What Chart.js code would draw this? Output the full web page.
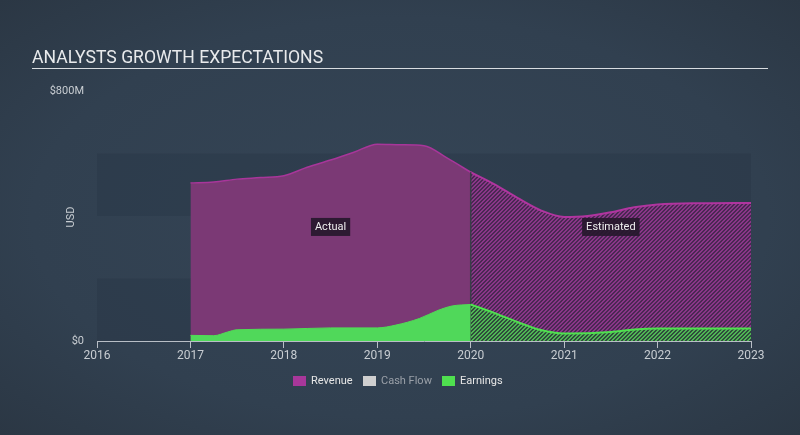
<!DOCTYPE html>
<html>
<head>
<meta charset="utf-8">
<script src="https://cdn.jsdelivr.net/npm/chart.js@4"></script>
<style>
  html, body { margin: 0; padding: 0; }
  body {
    width: 800px; height: 435px; overflow: hidden;
    background: radial-gradient(ellipse at 50% 50%, #354556 0%, #314050 65%, #2b3744 100%);
  }
  canvas { display: block; }
</style>
</head>
<body>
<canvas id="growthChart" width="800" height="435"></canvas>
<script>
// =====================
// Chart data
// =====================

const yearTicks = [2016, 2017, 2018, 2019, 2020, 2021, 2022, 2023];
const yTicks = [0, 800];           // $M
const bandEdges = [0, 200, 400, 600, 800];

// Revenue ($M), actual then analyst estimates
const revenueActualX = [2017, 2017.25, 2017.5, 2017.75, 2018, 2018.25, 2018.5, 2018.75, 2019, 2019.25, 2019.5, 2019.75, 2020];
const revenueActualY = [506, 509, 518, 523, 529, 556, 579, 604, 630, 628, 625, 585, 540];
const revenueEstX = [2020, 2020.25, 2020.5, 2020.75, 2021, 2021.25, 2021.5, 2021.75, 2022, 2022.5, 2023];
const revenueEstY = [540, 502, 458, 418, 397, 400, 412, 428, 437, 441, 442];

// Earnings ($M)
const earningsActualX = [2017, 2017.25, 2017.4, 2017.5, 2018, 2018.5, 2019, 2019.2, 2019.45, 2019.65, 2019.8, 2020];
const earningsActualY = [18, 17, 29, 36, 38, 42, 42, 51, 72, 98, 112, 117];
const earningsEstX = [2020, 2020.25, 2020.5, 2020.75, 2021, 2021.5, 2021.75, 2022, 2023];
const earningsEstY = [117, 90, 61, 35, 24, 29, 37, 40, 40];

const legendNames = ["Revenue", "Cash Flow", "Earnings"];
const legendColors = ["#a8379a", "#cfcfcf", "#4fe04f"];
const legendTextColors = ["#e6e6e6", "#9aa0a8", "#e6e6e6"];

const toPoints = (xs, ys) => xs.map((x, i) => ({ x: x, y: ys[i] }));

// -------- hatch pattern for estimates --------
function hatch(bg, fg) {
  const c = document.createElement('canvas');
  c.width = 4; c.height = 4;
  const g = c.getContext('2d');
  g.fillStyle = bg;
  g.fillRect(0, 0, 4, 4);
  g.fillStyle = fg;
  for (let i = 0; i < 4; i++) {
    g.fillRect(i, 3 - i, 1, 1);
    g.fillRect(i, (4 - i) % 4, 1, 1);
  }
  return g.createPattern(c, 'repeat');
}

// =====================
// Plugins
// =====================

const backdrop = {
  id: 'backdrop',
  beforeDraw(chart) {
    const { ctx, chartArea: a, scales: { y } } = chart;
    ctx.save();
    ctx.fillStyle = 'rgba(20,28,38,0.12)';
    for (let i = 0; i < bandEdges.length - 1; i += 2) {
      const top = y.getPixelForValue(bandEdges[i + 1]);
      const bot = y.getPixelForValue(bandEdges[i]);
      ctx.fillRect(a.left, top, a.right - a.left, bot - top);
    }
    ctx.restore();
  }
};

const decorations = {
  id: 'decorations',
  afterDraw(chart) {
    const { ctx, scales: { x, y } } = chart;
    ctx.save();

    // title
    ctx.fillStyle = '#e8eaec';
    ctx.font = '17.6px Roboto, "Noto Sans", sans-serif';
    ctx.textBaseline = 'alphabetic';
    ctx.textAlign = 'left';
    ctx.fillText('ANALYSTS GROWTH EXPECTATIONS', 32, 63);
    ctx.fillStyle = '#d8dce0';
    ctx.fillRect(32, 68, 736, 1);

    // y axis title
    ctx.save();
    ctx.translate(71, 217);
    ctx.rotate(-Math.PI / 2);
    ctx.fillStyle = '#c8cdd2';
    ctx.font = '11px Roboto, sans-serif';
    ctx.textAlign = 'center';
    ctx.textBaseline = 'middle';
    ctx.fillText('USD', 0, 0);
    ctx.restore();

    // Actual / Estimated tags
    const tags = [["Actual", 2018.5], ["Estimated", 2021.5]];
    ctx.font = '11px Roboto, sans-serif';
    ctx.textAlign = 'center';
    ctx.textBaseline = 'middle';
    tags.forEach(([txt, xv]) => {
      const cx = x.getPixelForValue(xv);
      const cy = y.getPixelForValue(365);
      const w = ctx.measureText(txt).width + 8;
      ctx.fillStyle = 'rgba(38,24,44,0.92)';
      ctx.fillRect(cx - w / 2, cy - 9, w, 18);
      ctx.fillStyle = '#eeeeee';
      ctx.fillText(txt, cx, cy);
    });

    // legend
    const lx = [293, 363, 442];
    ctx.textAlign = 'left';
    ctx.font = '11px Roboto, sans-serif';
    legendNames.forEach((name, i) => {
      ctx.fillStyle = legendColors[i];
      ctx.fillRect(lx[i], 376, 13, 10);
      ctx.fillStyle = legendTextColors[i];
      ctx.fillText(name, lx[i] + 18, 381.5);
    });

    ctx.restore();
  }
};

// =====================
// Chart
// =====================

const ctx = document.getElementById('growthChart');
const revHatch = hatch('#4a2853', '#8a3688');
const earnHatch = hatch('#2f4c3c', '#4fb554');

const common = {
  pointRadius: 0,
  cubicInterpolationMode: 'monotone',
  fill: 'origin'
};

new Chart(ctx, {
  type: 'line',
  data: {
    datasets: [
      { ...common, label: 'Earnings', order: 0, data: toPoints(earningsActualX, earningsActualY),
        backgroundColor: '#50d85a', borderColor: '#50dc55', borderWidth: 1 },
      { ...common, label: 'Earnings est', order: 0, data: toPoints(earningsEstX, earningsEstY),
        backgroundColor: earnHatch, borderColor: '#4fe04f', borderWidth: 2 },
      { label: 'divider', order: 0, pointRadius: 0, fill: false,
        data: [{ x: 2020, y: 0 }, { x: 2020, y: revenueActualY[revenueActualY.length - 1] }],
        borderColor: '#3a3d48', borderWidth: 1.5 },
      { ...common, label: 'Revenue', order: 1, data: toPoints(revenueActualX, revenueActualY),
        backgroundColor: '#7b3975', borderColor: '#a8369a', borderWidth: 1.5 },
      { ...common, label: 'Revenue est', order: 1, data: toPoints(revenueEstX, revenueEstY),
        backgroundColor: revHatch, borderColor: '#b0359f', borderWidth: 2 }
    ]
  },
  options: {
    responsive: false,
    animation: false,
    layout: { padding: { top: 91, right: 49, left: 0, bottom: 0 } },
    plugins: {
      legend: { display: false },
      tooltip: { enabled: false }
    },
    scales: {
      x: {
        type: 'linear',
        min: 2016,
        max: 2023,
        afterFit: s => { s.height = 94; },
        afterBuildTicks: s => { s.ticks = yearTicks.map(v => ({ value: v })); },
        ticks: {
          color: '#c8cdd2',
          font: { family: 'Roboto, sans-serif', size: 12 },
          padding: 1,
          maxRotation: 0,
          callback: v => String(v)
        },
        grid: { drawOnChartArea: false, drawTicks: true, tickLength: 7, color: '#b8bec6' },
        border: { color: '#b8bec6', width: 1 }
      },
      y: {
        min: 0,
        max: 800,
        afterFit: s => { s.width = 97; },
        afterBuildTicks: s => { s.ticks = yTicks.map(v => ({ value: v })); },
        ticks: {
          color: '#c8cdd2',
          font: { family: 'Roboto, sans-serif', size: 11 },
          padding: 5,
          callback: v => v === 0 ? '$0' : '$' + v + 'M'
        },
        grid: { display: false },
        border: { display: false }
      }
    }
  },
  plugins: [backdrop, decorations]
});
</script>
</body>
</html>
